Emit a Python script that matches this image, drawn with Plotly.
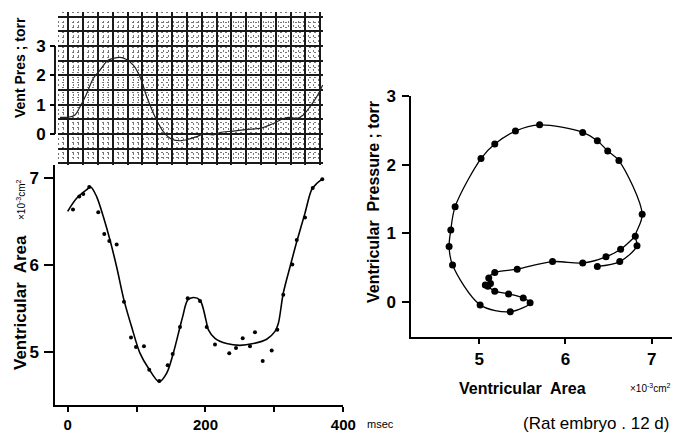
import plotly.graph_objects as go

# ---------------- data ----------------
# Top: ventricular pressure trace (torr) vs time (msec)
pres_time = [-11.2, 0.9, 10.6, 17.9, 26.6, 37.2, 46.9, 58.9, 75.9, 84.6, 95.2, 104.9, 114.7,
             126.7, 138.8, 150.9, 163.0, 175.1, 187.2, 196.8, 211.3, 221.0, 240.4, 259.8,
             279.1, 298.4, 312.9, 322.6, 332.4, 341.9, 351.7, 361.4, 370.1]
pres_torr = [0.57, 0.57, 0.65, 0.93, 1.33, 1.90, 2.18, 2.52, 2.61, 2.55, 2.35, 1.95, 1.27,
             0.59, 0.08, -0.18, -0.23, -0.18, -0.09, 0.00, -0.03, 0.05, 0.10, 0.16,
             0.19, 0.36, 0.53, 0.57, 0.53, 0.65, 0.93, 1.27, 1.67]
pres_ticks = [0, 1, 2, 3]

# Bottom-left: ventricular area (x10^-3 cm^2) measured points vs time
area_time = [7.7, 16.8, 22.6, 31.3, 44.4, 53.1, 60.4, 71.1, 81.7, 91.9, 99.1, 110.7, 118.4,
             132.9, 145.1, 152.4, 163.0, 174.2, 192.0, 201.7, 213.8, 234.5, 244.3, 254.0,
             264.6, 271.8, 283.0, 296.1, 304.2, 312.9, 326.0, 332.4, 344.4, 355.6, 369.5]
area_vals = [6.64, 6.79, 6.82, 6.90, 6.61, 6.36, 6.28, 6.24, 5.58, 5.17, 5.06, 5.07, 4.80,
             4.67, 4.85, 4.98, 5.29, 5.62, 5.59, 5.29, 5.09, 4.99, 5.05, 5.16,
             5.07, 5.23, 4.90, 5.02, 5.26, 5.66, 6.01, 6.29, 6.55, 6.89, 6.99]
# fitted curve through the area points
fit_time = [0, 13.0, 27.6, 33.4, 42.0, 51.7, 61.4, 71.1, 81.7, 92.9, 104.9, 117.0, 132.9,
            143.7, 153.3, 163.0, 166.9, 174.2, 182.3, 192.0, 200.7, 204.1, 213.8, 230.7,
            250.0, 269.4, 288.8, 300.9, 305.7, 312.9, 322.6, 332.4, 344.4, 354.1, 361.4, 369.5]
fit_vals = [6.62, 6.77, 6.87, 6.90, 6.79, 6.56, 6.29, 5.98, 5.60, 5.29, 4.99, 4.82, 4.66,
            4.76, 4.99, 5.29, 5.41, 5.60, 5.63, 5.60, 5.37, 5.26, 5.16, 5.10,
            5.08, 5.10, 5.15, 5.24, 5.33, 5.68, 5.98, 6.27, 6.60, 6.87, 6.94, 6.99]
time_ticks = [0, 200, 400]
time_minor_step = 100
area_ticks = [5, 6, 7]

# Right: pressure-area loop (points in order along the loop)
loop_area = [6.37, 6.63, 6.83, 6.81, 6.89, 6.62, 6.49, 6.37, 6.20, 5.70, 5.42, 5.18, 5.02,
             4.72, 4.67, 4.65, 4.69, 5.01, 5.36, 5.59, 5.51, 5.34, 5.18, 5.10, 5.07, 5.13,
             5.11, 5.18, 5.44, 5.85, 6.20, 6.47, 6.64]
loop_pres = [0.52, 0.59, 0.82, 0.96, 1.28, 2.06, 2.20, 2.35, 2.47, 2.58, 2.49, 2.30, 2.09,
             1.39, 1.05, 0.81, 0.54, -0.04, -0.14, -0.01, 0.06, 0.12, 0.16, 0.23, 0.25, 0.27,
             0.35, 0.43, 0.48, 0.59, 0.57, 0.66, 0.77]
loop_pres_ticks = [0, 1, 2, 3]
loop_area_ticks = [5, 6, 7]

# ---------------- figure ----------------
W, H = 674, 433
def fx(p):
    return p / W
def fy(p):
    return 1 - p / H

FONT = "Liberation Sans"
bold = dict(family=FONT, size=17, color="black", weight="bold")

fig = go.Figure()

# pressure trace (drawn on overlay axis y5 so it sits above the grid)
fig.add_trace(go.Scatter(x=pres_time, y=pres_torr, mode="lines", xaxis="x", yaxis="y5",
                         line=dict(color="#222", width=1.2, shape="spline", smoothing=0.8),
                         showlegend=False, hoverinfo="skip"))

# area points and fit
fig.add_trace(go.Scatter(x=fit_time, y=fit_vals, mode="lines", xaxis="x2", yaxis="y2",
                         line=dict(color="black", width=1.6, shape="spline", smoothing=0.9),
                         showlegend=False))
fig.add_trace(go.Scatter(x=area_time, y=area_vals, mode="markers", xaxis="x2", yaxis="y2",
                         marker=dict(color="black", size=4), showlegend=False))

# loop
loop_line_x = loop_area + [loop_area[3]]
loop_line_y = loop_pres + [loop_pres[3]]
fig.add_trace(go.Scatter(x=loop_line_x, y=loop_line_y, mode="lines", xaxis="x3", yaxis="y3",
                         line=dict(color="black", width=1.3, shape="spline", smoothing=0.9),
                         showlegend=False))
fig.add_trace(go.Scatter(x=loop_area, y=loop_pres, mode="markers", xaxis="x3", yaxis="y3",
                         marker=dict(color="black", size=7), showlegend=False))

top_yrange = [-1.057, 4.16]
minor_grid = dict(showgrid=True, gridcolor="#777", griddash="1px,4px", gridwidth=1.5)
fig.update_layout(
    width=W, height=H, margin=dict(l=0, r=0, t=0, b=0, autoexpand=False),
    paper_bgcolor="white", plot_bgcolor="white",
    font=dict(family=FONT, color="black"),
    # top grid panel
    xaxis=dict(domain=[fx(58), fx(323)], range=[-14.1, 370.5], anchor="y", automargin=False,
               showgrid=True, gridcolor="#1a1a1a", gridwidth=1.5, dtick=21.5, tick0=44.0,
               showticklabels=False, ticks="", zeroline=False, showline=False,
               minor=dict(dtick=21.5 / 3, tick0=44.0, **minor_grid)),
    yaxis=dict(domain=[fy(165), fy(12)], range=top_yrange, anchor="x", automargin=False,
               showgrid=True, gridcolor="#1a1a1a", gridwidth=1.5, dtick=0.5, tick0=0,
               showticklabels=False, ticks="", zeroline=False, showline=False,
               minor=dict(dtick=0.5 / 3, tick0=0, **minor_grid)),
    yaxis5=dict(overlaying="y", range=top_yrange, anchor="free", position=fx(55), side="left",
                automargin=False,
                tickvals=pres_ticks, ticks="outside", ticklen=5, tickwidth=1.5,
                tickcolor="black", showgrid=False, zeroline=False, showline=False,
                tickfont=bold, ticklabelstandoff=1),
    # bottom-left area vs time
    xaxis2=dict(domain=[fx(55), fx(343.3)], range=[-18.4, 400], anchor="y2", automargin=False,
                showline=True, linecolor="black", linewidth=1.5, ticks="outside",
                ticklen=5, tickwidth=1.5, tickcolor="black", tickvals=time_ticks,
                minor=dict(dtick=time_minor_step, tick0=0, ticks="outside", ticklen=5,
                           tickwidth=1.5, tickcolor="black", showgrid=False),
                tickfont=dict(family=FONT, size=15, weight="bold"),
                showgrid=False, zeroline=False, ticklabelstandoff=0),
    yaxis2=dict(domain=[fy(405), fy(165)], range=[4.394, 7.153], anchor="x2", automargin=False,
                showline=True, linecolor="black", linewidth=1.5, ticks="outside",
                ticklen=9, tickwidth=1.5, tickcolor="black", tickvals=area_ticks,
                tickfont=bold, showgrid=False, zeroline=False, ticklabelstandoff=2),
    # right loop
    xaxis3=dict(domain=[fx(411), fx(672)], range=[4.208, 7.236], anchor="y3", automargin=False,
                showline=True, linecolor="black", linewidth=1.5, ticks="outside",
                ticklen=6, tickwidth=1.5, tickcolor="black", tickvals=loop_area_ticks,
                tickfont=bold, showgrid=False, zeroline=False, ticklabelstandoff=0),
    yaxis3=dict(domain=[fy(336.5), fy(96)], range=[-0.5, 3.0], anchor="x3", automargin=False,
                showline=True, linecolor="black", linewidth=1.5, ticks="outside",
                ticklen=7, tickwidth=1.5, tickcolor="black", tickvals=loop_pres_ticks,
                tickfont=dict(family=FONT, size=17, weight="bold"), showgrid=False,
                zeroline=False, ticklabelstandoff=3),
)

# bracket axis line for the pressure scale (spans the labelled ticks)
fig.add_shape(type="line", xref="paper", yref="y", x0=fx(55), x1=fx(55),
              y0=min(pres_ticks), y1=max(pres_ticks), line=dict(color="black", width=1.8))

ann = []
def label(text, x, y, size, angle=0, weight="bold", xanchor="center"):
    ann.append(dict(text=text, x=fx(x), y=fy(y), xref="paper", yref="paper",
                    showarrow=False, textangle=angle, xanchor=xanchor, yanchor="middle",
                    font=dict(family=FONT, size=size, color="black", weight=weight)))

label("Vent Pres ; torr", 20, 68, 14, angle=-90)
label("Ventricular  Area", 20, 303, 17, angle=-90)
label("×10<sup>-3</sup>cm<sup>2</sup>", 21, 200, 10, angle=-90, weight="normal")
label("msec", 380, 424, 11, weight="normal")
label("Ventricular  Pressure ; torr", 373, 202, 16, angle=-90)
label("Ventricular  Area", 522, 388, 16)
label("×10<sup>-3</sup>cm<sup>2</sup>", 650, 388, 10, weight="normal")
label("(Rat embryo . 12 d)", 596, 423, 17, weight="normal")
fig.update_layout(annotations=ann)

fig.write_html("out.html", config={"displayModeBar": False},
               post_script="document.body.style.margin='0px';document.body.style.overflow='hidden';")
